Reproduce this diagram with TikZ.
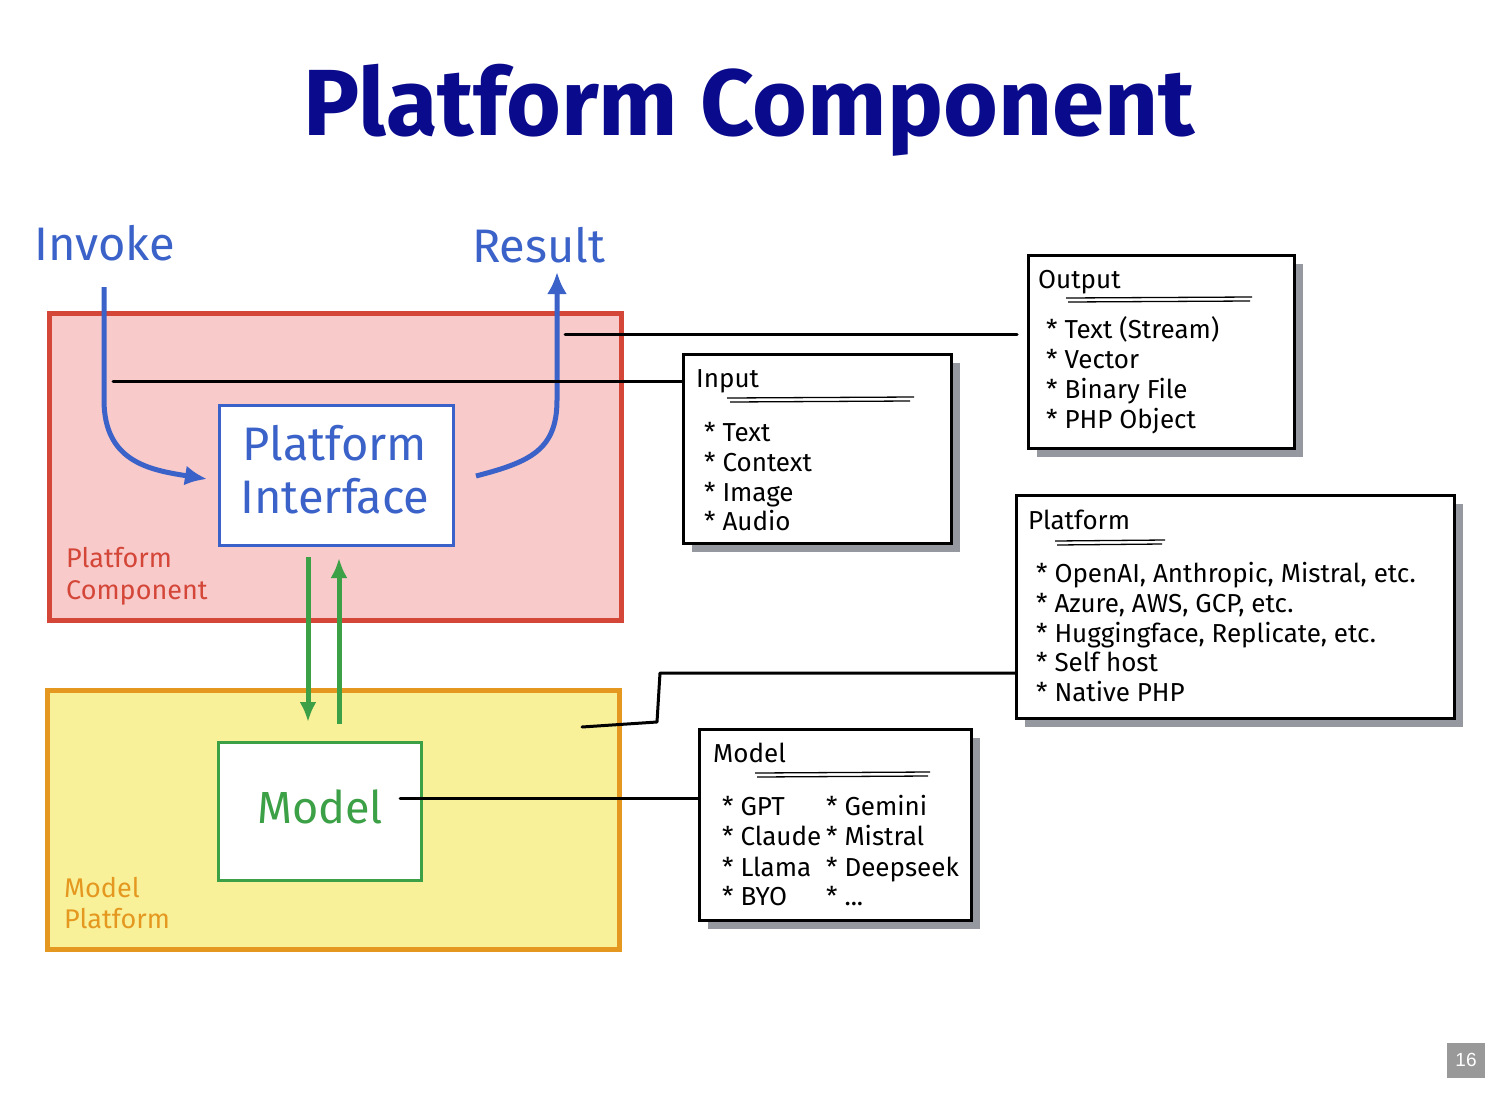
\documentclass[tikz,border=0pt]{standalone}
\usepackage{fontspec}
\setmainfont{Fira Sans}
\newfontfamily\pnfont{Liberation Sans}
\usetikzlibrary{arrows.meta,shadows}
\definecolor{navy}{RGB}{10,10,140}
\definecolor{redb}{RGB}{212,70,56}
\definecolor{pinkf}{RGB}{248,202,202}
\definecolor{yelf}{RGB}{249,241,153}
\definecolor{orab}{RGB}{228,152,32}
\definecolor{blu}{RGB}{58,98,200}
\definecolor{grn}{RGB}{60,160,70}
\definecolor{shd}{RGB}{150,152,160}
\definecolor{png}{RGB}{153,153,153}
\tikzset{
  area/.style={draw, line width=5pt, anchor=north west, inner sep=0pt},
  inner/.style={draw, fill=white, line width=3pt, anchor=north west, inner sep=0pt},
  listbox/.style={draw=black, fill=white, line width=3pt, anchor=north west, inner sep=0pt,
    drop shadow={shadow xshift=8pt, shadow yshift=-8pt, fill=shd, opacity=1}},
  bigtxt/.style={font=\fontsize{47}{54}\selectfont, anchor=base, inner sep=0pt},
  lbl/.style={font=\fontsize{27}{34}\selectfont, anchor=base west, inner sep=0pt},
  itm/.style={font=\fontsize{26}{30}\selectfont, anchor=base west, inner sep=0pt},
  conn/.style={draw=black, line width=3pt, line cap=round, line join=round},
  ul/.style={draw=black, line width=1.3pt},
  barr/.style={draw=blu, line width=5pt, -{Latex[length=22pt,width=20pt]}},
  garr/.style={draw=grn, line width=5pt, -{Latex[length=20pt,width=17pt]}},
}
\begin{document}
\begin{tikzpicture}[x=1pt,y=-1pt]
\useasboundingbox[fill=white] (0,0) rectangle (1498,1092);
% title
\node[font=\fontsize{94}{100}\selectfont\bfseries, text=navy, anchor=base, inner sep=0pt] (title) at (749,135) {Platform Component};
% areas
\node[area, draw=redb, fill=pinkf, minimum width=572pt, minimum height=307pt] (pcomp) at (47,311) {};
\node[area, draw=orab, fill=yelf, minimum width=572pt, minimum height=259pt] (mplat) at (45,688) {};
\node[lbl, text=redb] (pcl1) at (66,567) {Platform};
\node[lbl, text=redb] (pcl2) at (66,599) {Component};
\node[lbl, text=orab] (mpl1) at (64,897) {Model};
\node[lbl, text=orab] (mpl2) at (64,928) {Platform};
% inner boxes
\node[inner, draw=blu, minimum width=234pt, minimum height=140pt] (iface) at (218,404) {};
\node[bigtxt, text=blu] (ift1) at (335,460) {Platform};
\node[bigtxt, text=blu] (ift2) at (335,513) {Interface};
\node[inner, draw=grn, minimum width=203pt, minimum height=138pt] (model) at (217,741) {};
\node[bigtxt, text=grn, font=\fontsize{45}{54}\selectfont] (mdt) at (320,823) {Model};
% invoke / result
\node[bigtxt, text=blu, anchor=base west] (invoke) at (34,260) {Invoke};
\node[bigtxt, text=blu, anchor=base west] (result) at (472,262) {Result};
\coordinate (invs) at (104,287);
\coordinate (ifin) at (207,479);
\coordinate (ifout) at (476,476);
\coordinate (rese) at (557,272);
\draw[barr] (invs) -- (104,400) .. controls (104,462) and (150,470) .. (ifin);
\draw[barr] (ifout) .. controls (530,462) and (557,450) .. (557,400) -- (rese);
% green arrows
\coordinate (g1s) at (308,557);
\coordinate (g1e) at (308,722);
\coordinate (g2s) at (339,724);
\coordinate (g2e) at (339,558);
\draw[garr] (g1s) -- (g1e);
\draw[garr] (g2s) -- (g2e);
% list boxes
\node[listbox, minimum width=268pt, minimum height=189pt] (input) at (682,353) {};
\node[listbox, minimum width=266pt, minimum height=193pt] (output) at (1027,254) {};
\node[listbox, minimum width=438pt, minimum height=223pt] (platform) at (1015,494) {};
\node[listbox, minimum width=272pt, minimum height=191pt] (mlist) at (698,728) {};
% input texts
\node[itm] (inh) at (696,387) {Input};
\draw[ul] (727,398) -- (914,397); \draw[ul] (730,402) -- (910,401);
\node[itm] (in1) at (704,441) {* Text};
\node[itm] (in2) at (704,471) {* Context};
\node[itm] (in3) at (704,501) {* Image};
\node[itm] (in4) at (704,530) {* Audio};
% output texts
\node[itm] (outh) at (1038,288) {Output};
\draw[ul] (1066,298) -- (1252,297); \draw[ul] (1068,302) -- (1250,301);
\node[itm] (out1) at (1046,338) {* Text (Stream)};
\node[itm] (out2) at (1046,368) {* Vector};
\node[itm] (out3) at (1046,398) {* Binary File};
\node[itm] (out4) at (1046,428) {* PHP Object};
% platform texts
\node[itm] (plh) at (1028,529) {Platform};
\draw[ul] (1055,541) -- (1165,540); \draw[ul] (1057,545) -- (1162,544);
\node[itm] (pl1) at (1036,582) {* OpenAI, Anthropic, Mistral, etc.};
\node[itm] (pl2) at (1036,612) {* Azure, AWS, GCP, etc.};
\node[itm] (pl3) at (1036,642) {* Huggingface, Replicate, etc.};
\node[itm] (pl4) at (1036,671) {* Self host};
\node[itm] (pl5) at (1036,701) {* Native PHP};
% model list texts
\node[itm] (mh) at (713,762) {Model};
\draw[ul] (755,773) -- (930,772); \draw[ul] (757,777) -- (928,776);
\node[itm] (m1) at (722,815) {* GPT};
\node[itm] (m2) at (722,845) {* Claude};
\node[itm] (m3) at (722,876) {* Llama};
\node[itm] (m4) at (722,905) {* BYO};
\node[itm] (m5) at (826,815) {* Gemini};
\node[itm] (m6) at (826,845) {* Mistral};
\node[itm] (m7) at (826,876) {* Deepseek};
\node[itm] (m8) at (826,905) {* ...};
% connectors
\coordinate (c1) at (565,334);
\coordinate (c2) at (113,381);
\coordinate (c3) at (582,727);
\coordinate (c4) at (400,798);
\draw[conn, shorten >=10pt] (c1) -- (output.west |- c1);
\draw[conn] (c2) -- (input.west |- c2);
\draw[conn] (c3) -- (657,722) -- (660,673) -- (platform.west |- 660,673);
\draw[conn] (c4) -- (mlist.west |- c4);
% page number
\node[fill=png, text=white, font=\pnfont\fontsize{19}{22}\selectfont, minimum width=38pt, minimum height=35pt, inner sep=0pt] (pn) at (1466,1060) {16};
\end{tikzpicture}
\end{document}
